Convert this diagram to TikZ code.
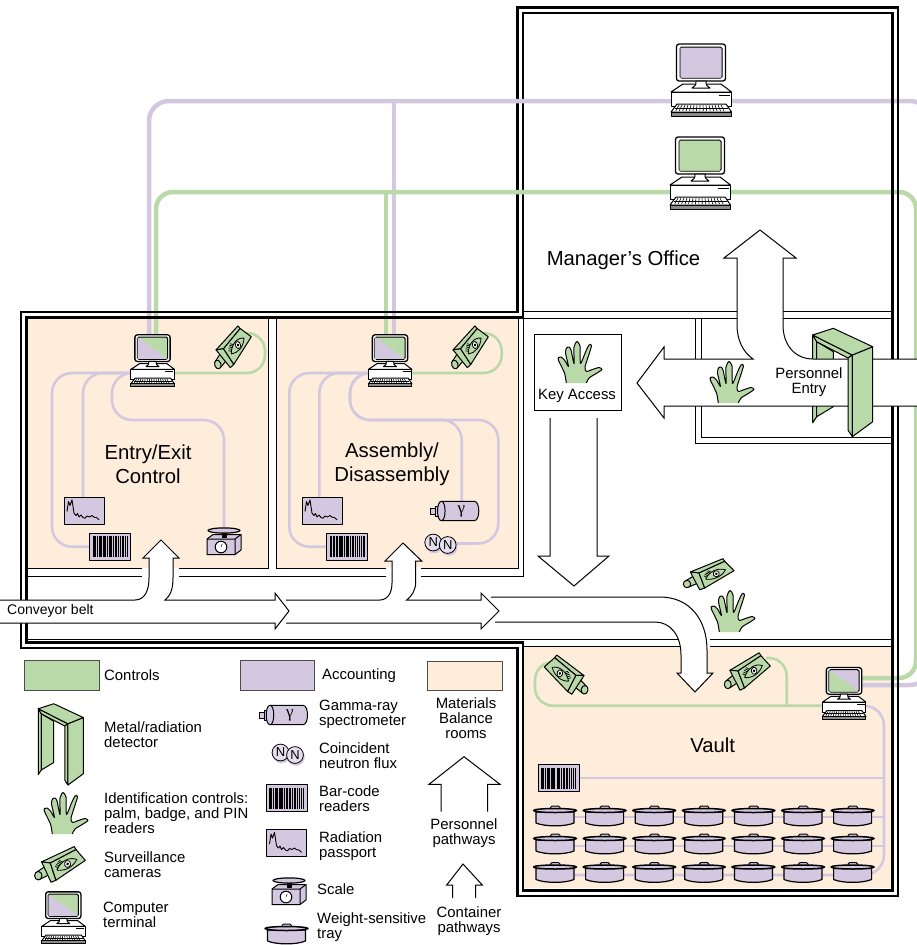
\documentclass[tikz,border=0pt]{standalone}
\usepackage{fontspec}
\setmainfont{Liberation Sans}
\newfontfamily\greekserif{Liberation Serif}
\usetikzlibrary{calc}
\definecolor{ctrlgreen}{RGB}{185,217,169}
\definecolor{acctpurple}{RGB}{212,200,224}
\definecolor{roomcream}{RGB}{255,237,219}
\tikzset{
    wall/.style={draw=black, line width=2.5pt, double=white, double distance=3pt, line join=miter}, % Building outline
    wallmark/.style={draw=black, line width=2.5pt},
    partition/.style={draw=black, line width=.9pt},
    pathway/.style={draw=black, fill=white, line width=1pt, line join=miter},
    acctbus/.style={draw=acctpurple, line width=4.5pt, rounded corners=20pt},
    ctrlbus/.style={draw=ctrlgreen, line width=4.5pt, rounded corners=17pt},
    acctline/.style={draw=acctpurple, line width=2.6pt, rounded corners=20pt},
    ctrlline/.style={draw=ctrlgreen, line width=2.6pt, rounded corners=18pt},
    icon/.style={draw=black, line width=1pt, line join=round},
    swatch/.style={draw=black!70, line width=1pt},
    roomlabel/.style={font=\fontsize{20.3}{24.5}\selectfont, align=center, inner sep=0pt},
    keylabel/.style={font=\fontsize{14.9}{15.2}\selectfont, align=left, anchor=west, inner sep=0pt},
    pathlabel/.style={font=\fontsize{14.9}{15.2}\selectfont, align=center, inner sep=0pt},
    pics/terminal/.style 2 args={code={
        \begin{scope}[shift={(0,-18)}]
            \draw[icon, line width=1.3pt, fill=white, rounded corners=2.5pt] (-24.5,-35) rectangle (24.5,2);
            \draw[icon, fill=#2, rounded corners=1.5pt] (-21,-32) rectangle (21,-1);
            \fill[#1] (-20.5,-31.5) -- (20.5,-1.5) -- (-20.5,-1.5) -- cycle;
            \draw[icon, fill=white] (-18,5) -- (20,5) -- (30.5,13) -- (-30,13) -- cycle;
            \draw[icon, fill=white] (-5,2) .. controls (-5,6) .. (-9,9) -- (9,9) .. controls (5,6) .. (5,2) -- cycle;
            \draw[icon, fill=white] (-30,13) rectangle (30.5,27);
            \draw[icon] (18,16) -- (29,16);
            \draw[icon, fill=white] (-24,25) -- (25,25) -- (30.5,33) -- (-30,33) -- cycle;
            \foreach \x in {-22,-19,...,22} \draw[line width=.6pt] (\x,26) -- ({\x*1.15},32);
            \draw[line width=.6pt] (-26,29) -- (27,29);
            \draw[icon, fill=black!45] (-30,33) rectangle (30.5,37);
        \end{scope}
    }},
    pics/camera/.style={code={
        \draw[icon, fill=ctrlgreen] (-18,2.3) -- (-27.3,7.7) -- (-24,14) -- (-15,10) -- cycle;
        \draw[icon, fill=ctrlgreen] (-26,11) circle[radius=3.7];
        \draw[icon, fill=ctrlgreen] (-22.7,-1) -- (10,-14.3) -- (11.7,-11.7) -- (-14,0) -- cycle;
        \draw[icon, fill=ctrlgreen] (-22.7,-1) -- (-14,0) -- (-8.3,15) -- (-13.3,16.7) -- cycle;
        \draw[icon, fill=ctrlgreen] (-14,0) -- (11.7,-11.7) -- (21,-2.3) -- (-8.3,15) -- cycle;
        \begin{scope}[shift={(2.5,1.5)}, rotate=25]
            \draw[line width=.8pt] (-11,0) .. controls (-4,-5.5) and (5,-5.5) .. (11,0) .. controls (5,4.5) and (-4,4.5) .. (-11,0);
            \foreach \x/\lid in {-9/-1.2,-7.5/-2.2,-6/-3,-4.5/-3.6,-3/-4} \draw[line width=.7pt] (\x,\lid) -- ({\x-2.2},{\lid-2.6});
            \draw[fill=white, line width=.8pt] (1,-.3) circle[radius=3];
            \fill (1,-.3) circle[radius=1.4];
        \end{scope}
    }},
    pics/hand/.style={code={
        \draw[icon, fill=ctrlgreen] plot[smooth, tension=.4] coordinates {
            (-10.7,0) (-12.5,-10) (-18.5,-22.5) (-18.5,-25.5) (-16,-26) (-12.5,-23) (-8.5,-16.5)
            (-11.5,-30) (-10.5,-35) (-8,-36) (-6,-33) (-3,-19.5)
            (-3,-36) (0,-41.5) (3,-37) (3.5,-19.5)
            (8.5,-31) (12,-38) (14.5,-37) (8,-16)
            (9.5,-11.5) (14,-13) (22,-15.5) (25,-13.5) (20,-10) (12,-5) (9.3,0)};
    }},
    pics/barcode/.style={code={
        \draw[icon, fill=acctpurple] (-20.5,-13.5) rectangle (20.5,13.5);
        \fill (-17.5,-10.5) rectangle (17.5,10.5);
        \foreach \x/\w in {-14.8/.7,-12.4/.5,-8.6/.8,-4/.6,-2.2/.5,1.6/.7,3.8/.5,6.6/.9,9/.5,11/.7,13.2/.5,15.4/.8}
            \fill[acctpurple] (\x,-10.5) rectangle ({\x+\w},10.5);
    }},
    pics/passport/.style={code={
        \draw[icon, fill=acctpurple] (-20,-13.5) rectangle (20,13.5);
        \draw[line width=.9pt, line join=round] (-17,1) -- (-15.5,-9) -- (-14,-5) -- (-12,-10.7) -- (-10,2.7) -- (-8,5) -- (-6.5,3) -- (-5,6.5) -- (-3,4.5) -- (-1,7) -- (1,7.7) -- (3,5.5) -- (5.5,6.5) -- (8,5) -- (10,6.7) -- (12.5,7) -- (15,9.3);
    }},
    pics/balance/.style={code={
        \draw[icon, fill=acctpurple] (-17,-4) -- (-11,-8.5) -- (17,-8.5) -- (17,7) -- (11,11.5) -- (-17,11.5) -- cycle;
        \draw[icon] (-17,-4) -- (11,-4) -- (17,-8.5) (11,-4) -- (11,11.5);
        \draw[icon, fill=black] (-2,-11) rectangle (2,-6);
        \draw[icon, line width=1.2pt, fill=acctpurple] (0,-12.5) ellipse[x radius=16, y radius=2.6];
        \draw[icon, fill=white] (-3,4) circle[radius=5.8];
        \draw[line width=.5pt] (-3,4) -- (-1.8,.8);
    }},
    pics/gammaray/.style={code={
        \draw[icon, fill=acctpurple] (-24,-3) rectangle (-14,3);
        \draw[icon, fill=acctpurple] (-19,-5) rectangle (-15,5);
        \draw[icon, fill=acctpurple] (-13,-9.7) -- (20,-9.7) .. controls (26,-9.7) and (26,9.7) .. (20,9.7) -- (-13,9.7) .. controls (-18,9.7) and (-18,-9.7) .. (-13,-9.7) -- cycle;
        \draw[icon] (-13,-9.7) .. controls (-8,-9.7) and (-8,9.7) .. (-13,9.7);
        \node[inner sep=0pt, font=\greekserif\fontsize{17}{17}\selectfont] (gammasign) at (7,.5) {γ};
    }},
    pics/neutron/.style={code={
        \fill[acctpurple] (-6.5,1) circle[radius=8.8];
        \fill[acctpurple] (8,3.5) circle[radius=8.8];
        \draw[line width=.8pt, fill=acctpurple!60] (-7.5,-1) circle[radius=8.4];
        \draw[line width=.8pt, fill=acctpurple!60] (7,1.5) circle[radius=8.4];
        \node[inner sep=0pt, font=\fontsize{13}{13}\selectfont] (nleft) at (-7.5,-1) {N};
        \node[inner sep=0pt, font=\fontsize{13}{13}\selectfont] (nright) at (7,1.5) {N};
    }},
    pics/tray/.style={code={
        \draw[icon, line width=1.2pt, fill=acctpurple] (-19,-4) -- (-19,7) .. controls (-10,10.8) and (10,10.8) .. (19,7) -- (19,-4) -- cycle;
        \draw[icon, fill=acctpurple, rounded corners=1.5pt] (-4.5,-10) rectangle (5,-5);
        \draw[icon, line width=1.5pt, fill=acctpurple] (0,-5.5) ellipse[x radius=21.5, y radius=2];
    }},
    pics/detectorback/.style={code={
        \draw[icon, fill=ctrlgreen] (-30.3,-47) -- (-26.3,-40.3) -- (-26.3,34.7) -- (-30.3,40.7) -- cycle;
        \draw[icon, fill=ctrlgreen] (-26.3,-40.3) -- (-9.7,-30.3) -- (-9.7,24.7) -- (-26.3,34.7) -- cycle;
    }},
    pics/detectorfront/.style={code={
        \draw[icon, fill=ctrlgreen] (-30.3,-47) -- (9.3,-27) -- (5,-24) -- (-26.3,-40.3) -- cycle;
        \draw[icon, fill=ctrlgreen] (5,-24) -- (9.3,-27) -- (9.3,54.7) -- (5,48) -- cycle;
        \draw[icon, fill=ctrlgreen] (9.3,-27) -- (29.7,-35.3) -- (29.7,39.7) -- (9.3,54.7) -- cycle;
        \draw[icon, fill=ctrlgreen] (-30.3,-47) -- (-9.7,-53.7) -- (29.7,-35.3) -- (9.3,-27) -- cycle;
    }},
}

\begin{document}
\begin{tikzpicture}[x=1pt, y=-1pt]
    \useasboundingbox (0,0) rectangle (917,945);

    \coordinate (termA) at (152.5,373);
    \coordinate (termB) at (390,373);
    \coordinate (termV) at (844,705.7);
    \coordinate (termP) at (701,97);
    \coordinate (termG) at (700,190);
    \coordinate (camA) at (235,345);
    \coordinate (camB) at (472,345);
    \coordinate (camV) at (563,673);
    \coordinate (camW) at (751,670);
    \coordinate (portA) at (245,333);
    \coordinate (portB) at (487,333);
    \coordinate (portV) at (550,662);
    \coordinate (portW) at (766,658);
    \coordinate (barA) at (110.3,546.7);
    \coordinate (barB) at (347,546.7);
    \coordinate (barV) at (558.5,778);
    \coordinate (passA) at (84,510.5);
    \coordinate (passB) at (322,510.5);
    \coordinate (balA) at (224,543);
    \coordinate (gammaB) at (454.3,511);
    \coordinate (fluxB) at (440.7,543.5);

    % rooms
    \fill[roomcream] (27,318) rectangle (268,568);
    \fill[roomcream] (276,318) rectangle (518,568);
    \fill[roomcream] (523,646) rectangle (891,888);
    \draw[partition] (27,568) -- (268,568) -- (268,318);
    \draw[partition] (276,318) -- (276,568) -- (518,568) -- (518,318);
    \draw[partition] (27,576) -- (523,576) -- (523,311);
    \draw[partition] (26,639) -- (891,639);
    \draw[partition] (523,646) -- (891,646);
    \draw[partition] (519,311) -- (891,311);
    \draw[partition] (523,318) -- (891,318);
    \draw[partition] (695,318) -- (695,443) -- (891,443);
    \draw[partition] (701.7,318) -- (701.7,437) -- (891,437);
    \draw[wall] (23.5,314.5) -- (520,314.5) -- (520,10) -- (895,10) -- (895,893) -- (520,893) -- (520,645) -- (23.5,645) -- cycle;

    % wires
    \draw[acctbus] (149,340) -- (149,101) -- (930,101) -- (930,685) -- (862,685);
    \draw[acctbus] (394,101) -- (394,340);
    \draw[ctrlbus] (156,340) -- (156,192) -- (916,192) -- (916,678) -- (862,678);
    \draw[ctrlbus] (386,192) -- (386,340);
    \foreach \yy in {101,192,678,685} {
        \draw[wallmark] (892.25,\yy-4) -- (892.25,\yy+4);
        \draw[wallmark] (897.75,\yy-4) -- (897.75,\yy+4);
    }
    \foreach \xx in {149,156,386,394} {
        \draw[wallmark] (\xx-4,311.75) -- (\xx+4,311.75);
        \draw[wallmark] (\xx-4,317.25) -- (\xx+4,317.25);
    }
    \draw[acctline] (termA) -- (52,373) -- (52,546.7) -- (barA);
    \draw[acctline] (termA) -- (83,373) -- (83,510);
    \draw[acctline] (termA) -- (112,373) -- (112,420) -- (224,420) -- (balA);
    \draw[ctrlline] (termA) -- (265,373) -- (265,333) -- (portA);
    \draw[acctline] (termB) -- (289.3,373) -- (289.3,546.7) -- (barB);
    \draw[acctline] (termB) -- (319.3,373) -- (319.3,510);
    \draw[acctline] (termB) -- (350,373) -- (350,420) -- (461.7,420) -- (461.7,511);
    \draw[acctline] (termB) -- (350,373) -- (350,420) -- (498.3,420) -- (498.3,543.5) -- (fluxB);
    \draw[ctrlline] (termB) -- (501.7,373) -- (501.7,333) -- (portB);
    \draw[ctrlline] (termV) -- (535,705.7) -- (535,662) -- (portV);
    \draw[ctrlline] (786.7,705.7) -- (786.7,658) -- (portW);
    \draw[acctline] (termV) -- (884,705.7) -- (884,875) -- (555,875);
    \draw[draw=acctpurple, line width=2.6pt] (barV) -- (884,778);
    \draw[draw=acctpurple, line width=2.6pt] (555,817) -- (884,817);
    \draw[draw=acctpurple, line width=2.6pt] (555,846) -- (884,846);

    % pathways
    \fill[white] (142,567) rectangle (179,577);
    \fill[roomcream] (142,566) rectangle (149,568);
    \fill[roomcream] (173,566) rectangle (179,568);
    \fill[white] (386,567) rectangle (421,577);
    \fill[white] (680,638) rectangle (710,647.5);
    \draw[pathway] (491,597) -- (660,597) .. controls (690,597) and (707,620) .. (707,650) -- (707,673) -- (713,673) -- (695,692) -- (677,673) -- (681,673) -- (681,655) .. controls (681,635) and (670,622) .. (655,622) -- (495,622);
    \draw[pathway] (286,600) -- (380,600) .. controls (388,600) and (392,592) .. (392,583) -- (392,561) -- (385,561) -- (403,543) -- (421.7,561) -- (415.7,561) -- (415.7,582) .. controls (415.7,590) and (412,596) .. (406.7,600) -- (481,600) -- (481,593) -- (499,611) -- (481,629) -- (481,623) -- (286,623);
    \draw[pathway] (0,600) -- (135,600) .. controls (145,600) and (149,590) .. (149,578) -- (149,558) -- (143,558) -- (161,540) -- (179,558) -- (173,558) -- (173,578) .. controls (173,590) and (170,596) .. (165,600) -- (275,600) -- (275,593) -- (289,611) -- (275,629) -- (275,623) -- (0,623);
    \draw[pathway] (550,418) -- (550,556) -- (538,556) -- (574,586) -- (609,556) -- (597,556) -- (597,418);

    \pic at (843,382) {detectorback};
    \draw[pathway] (917,359) -- (813,359) .. controls (795,359) and (783,345) .. (783,325) -- (783,258) -- (796,258) -- (760,230) -- (724,258) -- (737,258) -- (737,325) .. controls (737,340) and (743,352) .. (753,359) -- (664,359) -- (664,347) -- (637,383) -- (664,418) -- (664,406) -- (917,406);
    \pic at (843,382) {detectorfront};

    % equipment
    \pic[scale=.72] at (termA) {terminal={acctpurple}{ctrlgreen}};
    \pic[scale=.72] at (termB) {terminal={acctpurple}{ctrlgreen}};
    \pic[scale=.72] at (termV) {terminal={ctrlgreen}{acctpurple}};
    \pic at (termP) {terminal={acctpurple}{acctpurple}};
    \pic at (termG) {terminal={ctrlgreen}{ctrlgreen}};
    \pic[scale=.86, rotate=18, yscale=1.4] at (camA) {camera};
    \pic[scale=.86, rotate=18, yscale=1.4] at (camB) {camera};
    \pic[scale=.93, rotate=-10, xscale=-1, yscale=1.25] at (camV) {camera};
    \pic[scale=.93, rotate=4, yscale=1.25] at (camW) {camera};
    \pic at (713,573) {camera};
    \pic at (barA) {barcode};
    \pic at (barB) {barcode};
    \pic at (barV) {barcode};
    \pic at (passA) {passport};
    \pic at (passB) {passport};
    \pic at (balA) {balance};
    \pic at (gammaB) {gammaray};
    \pic at (fluxB) {neutron};
    \foreach \col in {0,...,6} {
        \foreach \row in {816,844,872.5} {
            \pic at ({555+49.6*\col},\row) {tray};
        }
    }

    % key access
    \node[draw=black, line width=1pt, minimum width=87pt, minimum height=76pt] (keybox) at (577.5,372) {};
    \pic at (577,383) {hand};
    \node[pathlabel] (keytext) at (577,396) {Key Access};
    \pic at (729,403) {hand};
    \pic at (730,632) {hand};

    % room names
    \node[roomlabel] (office) at (623.5,260) {Manager's Office};
    \node[roomlabel] (entryroom) at (148,464) {Entry/Exit\\Control};
    \node[roomlabel] (assembly) at (392,464) {Assembly/\\Disassembly};
    \node[roomlabel] (vault) at (712.7,745) {Vault};
    \node[pathlabel] (perstext) at (809,382) {Personnel\\Entry};
    \node[keylabel, font=\fontsize{14}{15}\selectfont] (belt) at (7,610.5) {Conveyor belt};

    % key
    \draw[swatch, fill=ctrlgreen] (24,660) rectangle (99,690);
    \draw[swatch, fill=acctpurple] (240,660) rectangle (314,690);
    \draw[swatch, fill=roomcream] (427.7,661) rectangle (502.7,690);
    \node[keylabel] (kcontrols) at (104,675) {Controls};
    \node[keylabel] (kaccount) at (322,676) {Accounting};
    \node[pathlabel] (kmaterial) at (466,718) {Materials\\Balance\\rooms};
    \pic[scale=.75] at (61,744) {detectorback};
    \pic[scale=.75] at (61,744) {detectorfront};
    \node[keylabel] (kdetector) at (104,735) {Metal/radiation\\detector};
    \pic at (63,834) {hand};
    \node[keylabel] (kident) at (104,813) {Identification controls:\\palm, badge, and PIN\\readers};
    \pic[yscale=1.15] at (64.3,863) {camera};
    \node[keylabel] (kcamera) at (104,865) {Surveillance\\cameras};
    \pic[scale=.72] at (63.3,930) {terminal={acctpurple}{ctrlgreen}};
    \node[keylabel] (kterminal) at (103,914.5) {Computer\\terminal};
    \pic at (283,715) {gammaray};
    \node[keylabel] (kgamma) at (319,714) {Gamma-ray\\spectrometer};
    \pic at (288,753.5) {neutron};
    \node[keylabel] (kflux) at (319,756) {Coincident\\neutron flux};
    \pic at (286.7,798.3) {barcode};
    \node[keylabel] (kbar) at (319,799) {Bar-code\\readers};
    \pic at (286.5,843) {passport};
    \node[keylabel] (kpass) at (319,846) {Radiation\\passport};
    \pic at (289,893) {balance};
    \node[keylabel] (kscale) at (317,889) {Scale};
    \pic at (286.5,934) {tray};
    \node[keylabel] (ktray) at (317,927) {Weight-sensitive\\tray};
    \draw[pathway, fill=none] (441,811.7) -- (441,784.3) -- (429,784.3) -- (464,756.7) -- (500,784.3) -- (487.7,784.3) -- (487.7,811.7);
    \node[pathlabel] (kpersonnel) at (464,833) {Personnel\\pathways};
    \draw[pathway, fill=none] (452.7,898) -- (452.7,885) -- (446.7,885) -- (463,864) -- (482.3,885) -- (475.7,885) -- (475.7,898);
    \node[pathlabel] (kcontainer) at (469,921.5) {Container\\pathways};
\end{tikzpicture}
\end{document}
